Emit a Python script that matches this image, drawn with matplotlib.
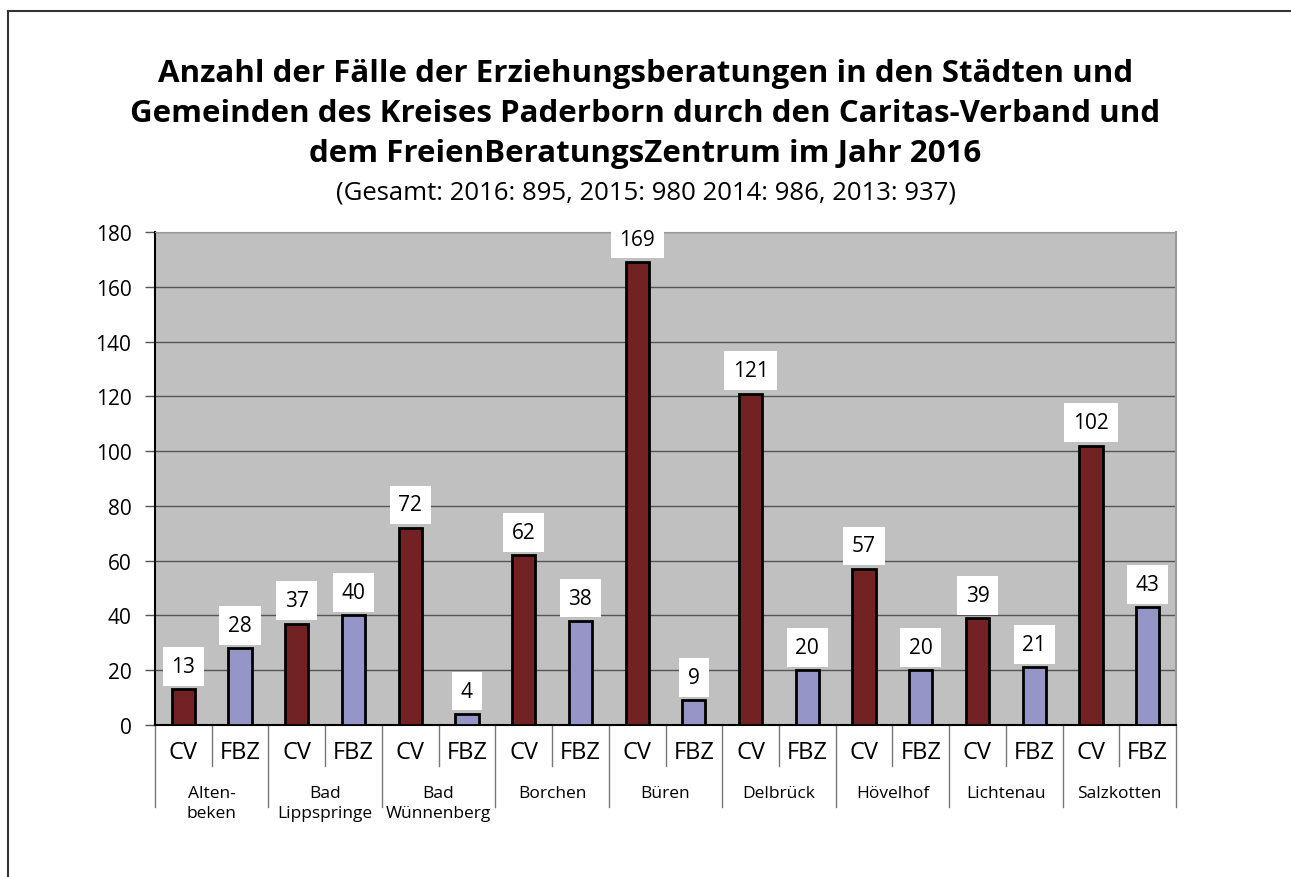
import matplotlib
matplotlib.use("Agg")
import matplotlib.pyplot as plt
from matplotlib.lines import Line2D
import matplotlib.transforms as mtransforms

plt.rcParams['font.family'] = ['Open Sans', 'DejaVu Sans']

# Data
orte = ["Alten-\nbeken", "Bad\nLippspringe", "Bad\nWünnenberg", "Borchen", "Büren",
        "Delbrück", "Hövelhof", "Lichtenau", "Salzkotten"]
cv = [13, 37, 72, 62, 169, 121, 57, 39, 102]
fbz = [28, 40, 4, 38, 9, 20, 20, 21, 43]
serien = ["CV", "FBZ"]

title_lines = ["Anzahl der Fälle der Erziehungsberatungen in den Städten und",
               "Gemeinden des Kreises Paderborn durch den Caritas-Verband und",
               "dem FreienBeratungsZentrum im Jahr 2016"]
subtitle = "(Gesamt: 2016: 895, 2015: 980 2014: 986, 2013: 937)"

W, H = 1291, 878
fig = plt.figure(figsize=(W / 100, H / 100), dpi=100)
ax = fig.add_axes([155 / W, 1 - 726 / H, (1176 - 155) / W, (726 - 233) / H])

# figure border (top and left only visible)
fig.add_artist(Line2D([8 / W, 8 / W], [0, 1 - 12 / H], color="#333333", lw=1.5))
fig.add_artist(Line2D([8 / W, 1], [1 - 12 / H, 1 - 12 / H], color="#333333", lw=1.5))

for line, base in zip(title_lines, [82, 122, 162]):
    fig.text(0.5, 1 - base / H, line, ha="center", va="baseline", fontsize=22.5,
             fontweight="bold")
fig.text(0.5, 1 - 200 / H, subtitle, ha="center", va="baseline", fontsize=18.5)

values = []
colors = []
labels = []
for c, f in zip(cv, fbz):
    values += [c, f]
    colors += ["#722222", "#9595C8"]
    labels += serien
x = list(range(len(values)))

ax.set_facecolor("#C0C0C0")
ax.bar(x, values, width=0.41, color=colors, edgecolor="black", linewidth=2, zorder=3)
for xi, v in zip(x, values):
    ax.annotate(str(v), (xi, v), xytext=(0, 16.5), textcoords="offset points",
                ha="center", va="center", fontsize=15, zorder=4,
                bbox=dict(boxstyle="square,pad=0.42", fc="white", ec="none"))

ax.set_xlim(-0.5, len(values) - 0.5)
ax.set_ylim(0, 180)
ax.set_yticks(range(0, 181, 20))
ax.tick_params(axis="y", labelsize=15, length=7, width=1, color="#555555", pad=10)
ax.set_xticks([])
ax.grid(axis="y", color="#555555", linewidth=1, zorder=1)
ax.spines["left"].set_color("black")
ax.spines["left"].set_linewidth(1.5)
ax.spines["bottom"].set_color("black")
ax.spines["bottom"].set_linewidth(1.5)
ax.spines["top"].set_color("#999999")
ax.spines["right"].set_color("#999999")
ax.spines["right"].set_linewidth(1.5)

trans = mtransforms.blended_transform_factory(ax.transData, ax.transAxes)
for xi, lab in zip(x, labels):
    ax.text(xi, -0.055, lab, transform=trans, ha="center", va="center", fontsize=17)
for i, ort in enumerate(orte):
    ax.text(2 * i + 0.5, -0.122, ort, transform=trans, ha="center", va="top",
            fontsize=12.5, linespacing=1.3)
for b in range(len(values) + 1):
    xb = b - 0.5
    bottom = -0.166 if b % 2 == 0 else -0.083
    ax.plot([xb, xb], [0, bottom], transform=trans, color="#777777", lw=1,
            clip_on=False)

fig.savefig("out.png", dpi=100, facecolor="white")
